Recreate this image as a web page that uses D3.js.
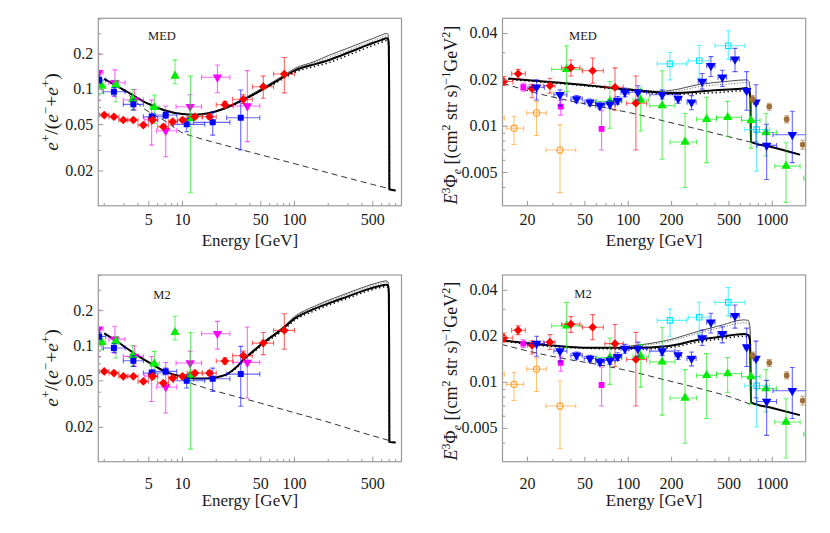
<!DOCTYPE html>
<html><head><meta charset="utf-8">
<script src="https://cdn.jsdelivr.net/npm/d3@7"></script>
<style>
body{margin:0;background:#fff}
svg{display:block}
text{font-family:"Liberation Serif","Times New Roman",serif;fill:#1a1a1a}
</style>
</head><body>
<svg id="c" width="830" height="533"></svg>
<script>
// ---------- DATA ----------
// rows: [E, value, Elo, Ehi, vlo, vhi]
const fracRed = [
 [2.00,0.0603,1.82,2.2,0.0585,0.0622],[2.44,0.0583,2.2,2.7,0.0566,0.0601],
 [2.96,0.0547,2.7,3.25,0.0531,0.0564],[3.64,0.0547,3.25,4.0,0.0531,0.0564],
 [4.47,0.0495,4.0,4.95,0.0479,0.0512],[5.42,0.0547,4.95,6.0,0.0528,0.0567],
 [6.74,0.0479,6.0,7.5,0.0462,0.0497],[8.18,0.0529,7.5,9.0,0.051,0.055],
 [10.0,0.0547,9.0,11.0,0.0526,0.0569],[12.9,0.0583,11.0,15.0,0.056,0.0608],
 [17.4,0.0583,15.0,20.0,0.0556,0.0612],[23.9,0.0740,20.0,28.0,0.0695,0.0790],
 [34.9,0.0823,28.0,42.0,0.0755,0.0900],[52.6,0.1055,42.0,65.0,0.0840,0.1300],
 [81.1,0.1355,65.0,100.0,0.0935,0.1880]
];
const fracMagenta = [
 [1.78,0.139,1.6,1.95,0.081,0.203],[2.49,0.114,2.2,3.07,0.0866,0.147],
 [3.72,0.0811,2.96,4.47,0.0666,0.100],[5.3,0.055,4.6,6.0,0.0333,0.081],
 [7.08,0.0443,5.88,8.88,0.0265,0.0720],[11.7,0.0711,8.75,14.8,0.057,0.090],
 [20.5,0.127,14.8,26.5,0.0937,0.162],[37.9,0.0721,28.4,49,0.0357,0.145]
];
const fracBlue = [
 [1.80,0.1204,1.77,2.06,0.112,0.130],[2.44,0.0956,1.96,3.07,0.0878,0.104],
 [3.64,0.0745,2.96,4.47,0.0666,0.0823],[5.31,0.0584,4.47,6.74,0.054,0.0624],
 [7.08,0.0603,5.7,8.88,0.0565,0.0644],[10.9,0.0502,8.3,15.8,0.0434,0.0565],
 [18.6,0.0522,12.5,26.5,0.0406,0.0644],[33.1,0.0572,24.8,49,0.0303,0.0988]
];
const fracGreen = [
 [1.90,0.107,1.79,2.04,0.0926,0.120],[2.54,0.109,2.4,2.7,0.0785,0.120],
 [3.60,0.0823,3.4,3.8,0.0666,0.100],[5.60,0.0702,5.13,6.2,0.0512,0.0896],
 [8.57,0.1304,8.3,8.85,0.112,0.179],[11.8,0.0565,11.4,12.2,0.0130,0.130]
];
const fluxRed = [
 [13.7,0.0195,12.2,15.8,0.0183,0.0210],[17.2,0.0219,15.5,19.3,0.0205,0.0234],
 [21.5,0.0175,20.0,23.1,0.0153,0.0187],[28.6,0.0183,25.7,31.0,0.0164,0.0205],
 [40.0,0.0240,34.5,46.2,0.0212,0.0269],[56.6,0.0229,48.2,67.1,0.0190,0.0277],
 [80.9,0.0179,68.9,92.3,0.0127,0.0239],[113,0.0141,97.5,134,0.0070,0.0212]
];
const fluxMagenta = [
 [18.7,0.0179,18.2,19.2,0.0169,0.0190],[34.0,0.0134,33.2,34.8,0.0118,0.0147],
 [65.3,0.0096,64.3,66.3,0.0070,0.0126]
];
const fluxOrange = [
 [12.4,0.0113,11.2,13.8,0.0103,0.0125],[16.1,0.0097,14.2,18.8,0.0076,0.0116],
 [23.1,0.0122,19.7,27.0,0.0087,0.0145],[33.6,0.0070,26.8,43.2,0.0037,0.0102]
];
const fluxGreen = [
 [37.3,0.0234,29.4,47.5,0.0168,0.0333],[74.6,0.0145,60,90,0.0097,0.0195],
 [122,0.0148,108,138,0.0093,0.0177],[172,0.0136,141,211,0.0061,0.0229],
 [248,0.0079,195,298,0.0040,0.0121],[350,0.0111,298,410,0.0058,0.0154],
 [490,0.0114,410,612,0.0086,0.0145],[711,0.0109,612,822,0.0072,0.0152],
 [904,0.0091,781,1070,0.0064,0.0121],[1245,0.0055,1040,1560,0.0032,0.0078],
 [1800,0.0046,1650,2000,0.0043,0.0049]
];
const fluxBlue = [
 [23.1,0.0179,20.5,26.2,0.0148,0.0200],[33.6,0.0160,30.5,37.5,0.0136,0.0172],
 [43.8,0.0150,40,48,0.0142,0.0158],[54.2,0.0143,49.5,59.5,0.0136,0.0150],
 [63.6,0.0136,59.5,68,0.0129,0.0143],[74.6,0.0139,68,81,0.0131,0.0147],
 [84.4,0.0147,79,90,0.0139,0.0156],[94.8,0.0166,89,101,0.0155,0.0177],
 [117,0.0166,101,134,0.0148,0.0183],[172,0.0160,141,211,0.0150,0.0172],
 [222,0.0151,211,234,0.0141,0.0161],[275,0.0143,256,296,0.0128,0.0158],
 [326,0.0195,306,348,0.0174,0.0220],[375,0.0247,350,400,0.0210,0.0283],
 [450,0.0208,420,482,0.0181,0.0231],[551,0.0272,515,590,0.0226,0.0320],
 [664,0.0170,640,690,0.0127,0.0226],[771,0.0143,740,800,0.0079,0.0186],
 [914,0.0075,780,1070,0.0045,0.0103],[1377,0.0088,1010,1720,0.0058,0.0125]
];
const fluxCyan = [
 [195,0.0254,159,254,0.0200,0.0301],[311,0.0266,261,365,0.0205,0.0334],
 [495,0.0333,400,645,0.0272,0.0417],[779,0.0095,645,960,0.0051,0.0145]
];
const fluxBrown = [
 [731,0.0150,715,748,0.0142,0.0158],[953,0.0134,930,976,0.0127,0.0141],
 [1259,0.0111,1230,1290,0.0105,0.0117],[1626,0.0076,1590,1660,0.0071,0.0081]
];

// model curves: [E, value]
const fracBgMED = [[2,0.123],[3,0.097],[4.47,0.069],[7,0.0535],[10,0.0425],[12,0.040],[15,0.0375],[20,0.0348],[40,0.0291],[100,0.0231],[200,0.0193],[500,0.0153],[760,0.0138],[800,0.0136]];
const fracBgM2 = [[2,0.128],[3,0.099],[5,0.072],[7,0.060],[10,0.051],[12,0.0476],[19,0.0414],[43,0.0335],[98,0.0268],[222,0.0215],[400,0.0180],[765,0.0150],[800,0.0148]];
const fracMEDthick = [[2.0,0.123],[2.5,0.109],[3,0.099],[4,0.084],[5,0.075],[7,0.066],[10,0.0615],[13,0.0608],[17,0.0625],[22,0.067],[30,0.076],[40,0.087],[52,0.1],[80,0.128],[100,0.145],[120,0.155],[150,0.164],[200,0.178],[300,0.206],[400,0.23],[500,0.25],[600,0.266],[660,0.274],[685,0.268],[695,0.23],[700,0.1],[703,0.0139],[800,0.0136]];
const fracMEDthin = [[17,0.0625],[22,0.0672],[30,0.077],[50,0.101],[80,0.132],[100,0.151],[150,0.173],[200,0.195],[300,0.226],[400,0.252],[500,0.273],[600,0.293],[660,0.302],[685,0.296],[695,0.25],[700,0.1],[703,0.0139]];
const fracMEDthinDot = [[17,0.0625],[22,0.0671],[30,0.0765],[50,0.1005],[80,0.13],[100,0.148],[150,0.169],[200,0.187],[300,0.216],[400,0.241],[500,0.261],[600,0.28],[660,0.288],[685,0.282],[695,0.24],[700,0.1],[703,0.0139]];
const fracMEDthickDot = [[17,0.0623],[22,0.0665],[30,0.075],[50,0.097],[80,0.124],[100,0.14],[150,0.157],[200,0.169],[300,0.196],[400,0.219],[500,0.238],[600,0.254],[660,0.262],[685,0.256],[695,0.22],[700,0.1],[703,0.0139]];
const fracM2thick = [[2.0,0.128],[2.5,0.112],[3,0.099],[4,0.082],[5,0.072],[7,0.060],[10,0.0545],[13,0.0525],[18,0.0527],[22,0.0548],[25,0.0572],[30,0.065],[35,0.076],[43,0.090],[52,0.105],[79,0.141],[100,0.171],[150,0.207],[222,0.239],[300,0.265],[440,0.303],[550,0.322],[660,0.333],[685,0.326],[695,0.28],[700,0.1],[703,0.0150],[800,0.0148]];
const fracM2thin = [[22,0.0549],[25,0.0575],[30,0.0655],[35,0.077],[52,0.107],[80,0.146],[100,0.178],[150,0.218],[222,0.255],[300,0.284],[440,0.325],[550,0.347],[660,0.36],[685,0.352],[695,0.3],[700,0.1],[703,0.015]];
const fracM2thinDot = [[22,0.0548],[25,0.0573],[30,0.0652],[35,0.0765],[52,0.1055],[80,0.1435],[100,0.175],[150,0.212],[222,0.248],[300,0.276],[440,0.316],[550,0.337],[660,0.35],[685,0.342],[695,0.29],[700,0.1],[703,0.015]];
const fracM2thickDot = [[22,0.0545],[25,0.0567],[30,0.064],[35,0.0745],[52,0.102],[80,0.137],[100,0.165],[150,0.199],[222,0.231],[300,0.256],[440,0.293],[550,0.311],[660,0.322],[685,0.315],[695,0.27],[700,0.1],[703,0.015]];

const fluxBgMED = [[13.5,0.0190],[22,0.0166],[37,0.0148],[63,0.0134],[108,0.0121],[185,0.0107],[315,0.0095],[536,0.0084],[700,0.0079]];
const fluxBgM2 = [[13.2,0.0177],[22,0.0157],[37,0.0142],[63.5,0.0130],[108,0.0117],[185,0.0103],[315,0.0091],[536,0.0079],[700,0.0072]];
const fluxMEDthick = [[14.7,0.0204],[30,0.0193],[50,0.0185],[100,0.0173],[200,0.0164],[400,0.0171],[600,0.0175],[664,0.0177],[690,0.0170],[705,0.0152],[710,0.0079],[1000,0.0073],[1560,0.00653]];
const fluxMEDthin = [[100,0.0175],[165,0.0168],[200,0.0171],[315,0.0187],[500,0.0196],[660,0.0200],[690,0.0195],[705,0.016],[710,0.0079]];
const fluxMEDthinDot = [[100,0.0174],[200,0.0168],[315,0.0181],[500,0.0188],[660,0.0192],[690,0.0187],[705,0.016],[710,0.0079]];
const fluxMEDthickDot = [[14.7,0.0201],[50,0.0183],[100,0.0171],[200,0.0161],[400,0.0165],[660,0.0170],[690,0.0165],[705,0.015],[710,0.0079]];
const fluxM2thick = [[13.5,0.0188],[20,0.0180],[37,0.0171],[60,0.0168],[108,0.0168],[185,0.0172],[320,0.0191],[450,0.0199],[630,0.0207],[680,0.0204],[700,0.0190],[712,0.0074],[1000,0.0068],[1555,0.0061]];
const fluxM2thin = [[100,0.0172],[185,0.0188],[320,0.0218],[450,0.0237],[630,0.0256],[680,0.0254],[700,0.0230],[712,0.0074]];
const fluxM2thinDot = [[100,0.0171],[185,0.0184],[320,0.0212],[450,0.0229],[630,0.0245],[680,0.0243],[700,0.022],[712,0.0074]];
const fluxM2thickDot = [[13.5,0.0186],[37,0.0169],[108,0.0165],[185,0.0168],[320,0.0185],[450,0.0193],[630,0.0200],[680,0.0197],[700,0.0185],[712,0.0074]];

// ticks
const fracXMajor = [5,10,50,100,500];
const fracXMinor = [2,3,4,6,7,8,9,20,30,40,60,70,80,90,200,300,400,600,700,800,900];
const fracYMajor = [0.02,0.05,0.1,0.2];
const fracYMinor = [0.03,0.04,0.06,0.07,0.08,0.09,0.3,0.4];
const fluxXMajor = [20,50,100,200,500,1000];
const fluxXMinor = [30,40,60,70,80,90,300,400,600,700,800,900];
const fluxYMajor = [0.005,0.01,0.02,0.04];
const fluxYMinor = [0.004,0.006,0.007,0.008,0.009,0.03];
const panelLabels = ["MED","MED","M2","M2"];

// ---------- DRAW ----------
const svg = d3.select("#c");
const panels = [
 {id:"tl", kind:"frac", x0:98.3,x1:401.5,y0:18.3,y1:205.8, xd:[1.77,902], yd:[0.01006,0.407], lab:panelLabels[0], lx:162, ly:40, tickBase:225, titleBase:245.5, ytx:58, yty:112,
  bg:fracBgMED, thick:fracMEDthick, thin:fracMEDthin, thinDot:fracMEDthinDot, thickDot:fracMEDthickDot},
 {id:"tr", kind:"flux", x0:502.5,x1:805.7,y0:18.3,y1:205.8, xd:[13.4,1706], yd:[0.00304,0.0502], lab:panelLabels[1], lx:583, ly:40, tickBase:225, titleBase:245.5, ytx:457, yty:115,
  bg:fluxBgMED, thick:fluxMEDthick, thin:fluxMEDthin, thinDot:fluxMEDthinDot, thickDot:fluxMEDthickDot},
 {id:"bl", kind:"frac", x0:98.3,x1:401.5,y0:275,y1:461.7, xd:[1.77,902], yd:[0.01014,0.4046], lab:panelLabels[2], lx:162, ly:299, tickBase:489, titleBase:506, ytx:58, yty:368,
  bg:fracBgM2, thick:fracM2thick, thin:fracM2thin, thinDot:fracM2thinDot, thickDot:fracM2thickDot},
 {id:"br", kind:"flux", x0:502.5,x1:805.7,y0:275,y1:461.7, xd:[13.4,1706], yd:[0.003027,0.0503], lab:panelLabels[3], lx:583, ly:298, tickBase:489, titleBase:506, ytx:457, yty:371,
  bg:fluxBgM2, thick:fluxM2thick, thin:fluxM2thin, thinDot:fluxM2thinDot, thickDot:fluxM2thickDot}
];

const defs = svg.append("defs");

function errSeries(g, xs, ys, data, color, shape, size, open, rot) {
  const eg = g.append("g").attr("stroke", color).attr("stroke-opacity", 0.6).attr("stroke-width", 1.1).attr("fill","none");
  data.forEach(d => {
    const x = xs(d[0]), y = ys(d[1]), xl = xs(d[2]), xh = xs(d[3]), yl = ys(d[4]), yh = ys(d[5]);
    eg.append("line").attr("x1", xl).attr("x2", xh).attr("y1", y).attr("y2", y);
    eg.append("line").attr("x1", xl).attr("x2", xl).attr("y1", y-2.5).attr("y2", y+2.5);
    eg.append("line").attr("x1", xh).attr("x2", xh).attr("y1", y-2.5).attr("y2", y+2.5);
    eg.append("line").attr("x1", x).attr("x2", x).attr("y1", yl).attr("y2", yh);
    eg.append("line").attr("x1", x-2.5).attr("x2", x+2.5).attr("y1", yl).attr("y2", yl);
    eg.append("line").attr("x1", x-2.5).attr("x2", x+2.5).attr("y1", yh).attr("y2", yh);
  });
  g.append("g").selectAll("path").data(data).join("path")
    .attr("transform", d => `translate(${xs(d[0])},${ys(d[1])})` + (rot ? " rotate(180)" : ""))
    .attr("d", d3.symbol(shape, size)())
    .attr("fill", open ? "none" : color)
    .attr("stroke", open ? color : "none")
    .attr("stroke-width", open ? 1.1 : 0);
}

panels.forEach(p => {
  const xs = d3.scaleLog().domain(p.xd).range([p.x0, p.x1]);
  const ys = d3.scaleLog().domain(p.yd).range([p.y1, p.y0]);
  const g = svg.append("g");
  defs.append("clipPath").attr("id", "clip-"+p.id).append("rect")
    .attr("x", p.x0).attr("y", p.y0).attr("width", p.x1-p.x0).attr("height", p.y1-p.y0);
  const pg = g.append("g").attr("clip-path", `url(#clip-${p.id})`);
  const line = d3.line().x(d => xs(d[0])).y(d => ys(d[1])).curve(d3.curveMonotoneX);

  pg.append("path").attr("d", line(p.bg)).attr("fill","none").attr("stroke","#333").attr("stroke-width",1).attr("stroke-dasharray","6,4");
  pg.append("path").attr("d", line(p.thin)).attr("fill","none").attr("stroke","#222").attr("stroke-width",0.8);
  pg.append("path").attr("d", line(p.thinDot)).attr("fill","none").attr("stroke","#666").attr("stroke-width",0.9).attr("stroke-dasharray","1.2,1.6");
  pg.append("path").attr("d", line(p.thickDot)).attr("fill","none").attr("stroke","#000").attr("stroke-width",1.5).attr("stroke-dasharray","1.3,2.7");
  pg.append("path").attr("d", line(p.thick)).attr("fill","none").attr("stroke","#000").attr("stroke-width",2);

  if (p.kind === "frac") {
    errSeries(pg, xs, ys, fracMagenta, "#ff00ff", d3.symbolTriangle, 38, false, true);
    errSeries(pg, xs, ys, fracGreen, "#00ee00", d3.symbolTriangle, 38, false, false);
    errSeries(pg, xs, ys, fracBlue, "#0000ff", d3.symbolSquare, 36, false, false);
    errSeries(pg, xs, ys, fracRed, "#ff0000", d3.symbolDiamond2, 48, false, false);
  } else {
    errSeries(pg, xs, ys, fluxOrange, "#ff9922", d3.symbolCircle, 30, true, false);
    errSeries(pg, xs, ys, fluxGreen, "#00ee00", d3.symbolTriangle, 38, false, false);
    errSeries(pg, xs, ys, fluxCyan, "#00e5ff", d3.symbolSquare, 30, true, false);
    errSeries(pg, xs, ys, fluxMagenta, "#ff00ff", d3.symbolSquare, 34, false, false);
    errSeries(pg, xs, ys, fluxRed, "#ff0000", d3.symbolDiamond2, 48, false, false);
    errSeries(pg, xs, ys, fluxBlue, "#0000ff", d3.symbolTriangle, 40, false, true);
    errSeries(pg, xs, ys, fluxBrown, "#a0703c", d3.symbolCircle, 26, false, false);
  }

  g.append("rect").attr("x", p.x0).attr("y", p.y0).attr("width", p.x1-p.x0).attr("height", p.y1-p.y0)
    .attr("fill","none").attr("stroke","#9a9a9a").attr("stroke-width",1.2);

  const xMaj = p.kind === "frac" ? fracXMajor : fluxXMajor;
  const xMin = p.kind === "frac" ? fracXMinor : fluxXMinor;
  const yMaj = p.kind === "frac" ? fracYMajor : fluxYMajor;
  const yMin = p.kind === "frac" ? fracYMinor : fluxYMinor;
  const tg = g.append("g").attr("stroke","#9a9a9a").attr("stroke-width",1);
  xMaj.forEach(v => tg.append("line").attr("x1", xs(v)).attr("x2", xs(v)).attr("y1", p.y1).attr("y2", p.y1-5));
  xMin.forEach(v => { if (v > p.xd[0] && v < p.xd[1]) tg.append("line").attr("x1", xs(v)).attr("x2", xs(v)).attr("y1", p.y1).attr("y2", p.y1-2.8); });
  yMaj.forEach(v => tg.append("line").attr("x1", p.x0).attr("x2", p.x0+5).attr("y1", ys(v)).attr("y2", ys(v)));
  yMin.forEach(v => { if (v > p.yd[0] && v < p.yd[1]) tg.append("line").attr("x1", p.x0).attr("x2", p.x0+2.8).attr("y1", ys(v)).attr("y2", ys(v)); });

  xMaj.forEach(v => g.append("text").attr("x", xs(v)).attr("y", p.tickBase).attr("text-anchor","middle").attr("font-size",16).text(String(v)));
  yMaj.forEach(v => g.append("text").attr("x", p.x0-5).attr("y", ys(v)+5).attr("text-anchor","end").attr("font-size",16).text(String(v)));

  g.append("text").attr("x", (p.x0+p.x1)/2).attr("y", p.titleBase).attr("text-anchor","middle").attr("font-size",17).text("Energy [GeV]");
  g.append("text").attr("x", p.lx).attr("y", p.ly).attr("text-anchor","middle").attr("font-size",12.5).text(p.lab);

  const yt = g.append("text").attr("transform", `translate(${p.ytx},${p.yty}) rotate(-90)`).attr("text-anchor","middle");
  if (p.kind === "frac") {
    yt.attr("font-size",19.5);
    yt.append("tspan").attr("font-style","italic").text("e");
    yt.append("tspan").attr("dy",-8).attr("font-size",13).text("+");
    yt.append("tspan").attr("dy",8).text("/(");
    yt.append("tspan").attr("font-style","italic").text("e");
    yt.append("tspan").attr("dy",-8).attr("font-size",13).text("\u2212");
    yt.append("tspan").attr("dy",8).text("+");
    yt.append("tspan").attr("font-style","italic").text("e");
    yt.append("tspan").attr("dy",-8).attr("font-size",13).text("+");
    yt.append("tspan").attr("dy",8).text(")");
  } else {
    yt.attr("font-size",18);
    yt.append("tspan").attr("font-style","italic").text("E");
    yt.append("tspan").attr("dy",-7).attr("font-size",12).text("3");
    yt.append("tspan").attr("dy",7).text("\u03A6");
    yt.append("tspan").attr("dy",4).attr("font-size",12).attr("font-style","italic").text("e");
    yt.append("tspan").attr("dy",-4).text(" [(cm");
    yt.append("tspan").attr("dy",-7).attr("font-size",12).text("2");
    yt.append("tspan").attr("dy",7).text(" str s)");
    yt.append("tspan").attr("dy",-7).attr("font-size",12).text("\u22121");
    yt.append("tspan").attr("dy",7).text("GeV");
    yt.append("tspan").attr("dy",-7).attr("font-size",12).text("2");
    yt.append("tspan").attr("dy",7).text("]");
  }
});
</script>
</body></html>
